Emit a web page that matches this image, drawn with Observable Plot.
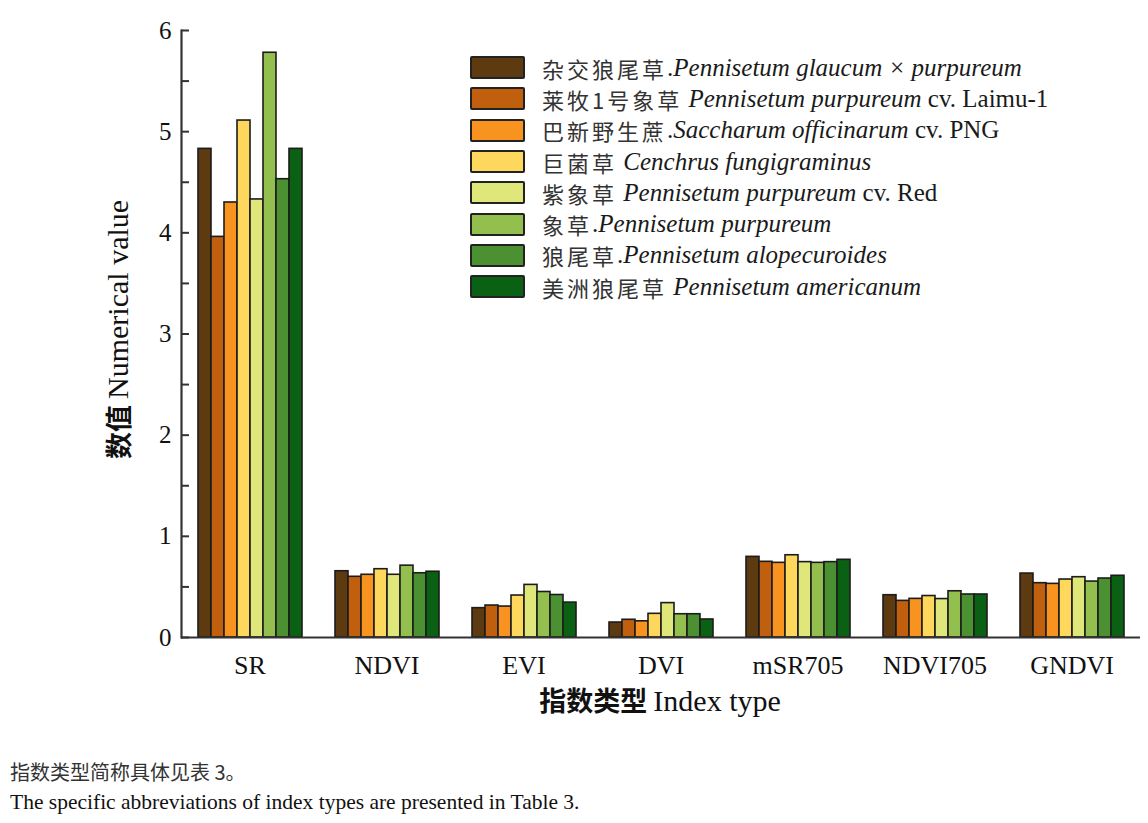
<!DOCTYPE html>
<html>
<head>
<meta charset="utf-8">
<script src="https://cdn.jsdelivr.net/npm/d3@7"></script>
<script src="https://cdn.jsdelivr.net/npm/@observablehq/plot@0.6"></script>
<style>
  body { margin: 0; background: #fff; }
  #wrap { position: relative; width: 1148px; height: 823px; }
  #legend { position: absolute; left: 470px; top: 52px; font-family: "Liberation Serif", "Noto Sans CJK SC", serif; font-size: 25px; color: #1a1a1a; }
  .row { display: flex; align-items: center; height: 31.3px; white-space: nowrap; }
  .row span { white-space: pre; }
  .sw { width: 51px; height: 19px; border: 2px solid #222; border-radius: 2px; margin-right: 17px; box-sizing: content-box; }
  .cn { font-family: "Noto Sans CJK SC", sans-serif; font-size: 22px; letter-spacing: 3px; color: #333; }
  .la { font-style: italic; }
  #caption { position: absolute; left: 10px; top: 756px; color: #111; }
  #cap1 { font-family: "Noto Sans CJK SC", sans-serif; font-size: 20px; height: 31px; line-height: 31px; color: #333; }
  #cap2 { font-family: "Liberation Serif", serif; font-size: 21.5px; height: 31px; line-height: 31px; }
</style>
</head>
<body>
<div id="wrap">
  <div id="chart"></div>
  <div id="legend"></div>
  <div id="caption">
    <div id="cap1">指数类型简称具体见表 3。</div>
    <div id="cap2">The specific abbreviations of index types are presented in Table 3.</div>
  </div>
</div>
<script>
// ---- data ----
const indices = ["SR", "NDVI", "EVI", "DVI", "mSR705", "NDVI705", "GNDVI"];
const speciesCn = ["杂交狼尾草", "莱牧1号象草", "巴新野生蔗", "巨菌草", "紫象草", "象草", "狼尾草", "美洲狼尾草"];
const speciesSep = [".", " ", ".", " ", " ", ".", ".", " "];
const speciesLatin = ["Pennisetum glaucum × purpureum", "Pennisetum purpureum", "Saccharum officinarum", "Cenchrus fungigraminus", "Pennisetum purpureum", "Pennisetum purpureum", "Pennisetum alopecuroides", "Pennisetum americanum"];
const speciesCv = ["", " cv. Laimu-1", " cv. PNG", "", " cv. Red", "", "", ""];
const colors = ["#5e3a10", "#c0600e", "#f7931e", "#fdd85d", "#dfe67a", "#93bf4f", "#4b9132", "#0a6114"];

// values per species, in the order of `indices`
const vHybrid    = [4.83, 0.655, 0.290, 0.148, 0.797, 0.418, 0.632];
const vLaimu     = [3.96, 0.600, 0.316, 0.175, 0.748, 0.362, 0.537];
const vPNG       = [4.30, 0.620, 0.306, 0.160, 0.738, 0.382, 0.530];
const vFungi     = [5.11, 0.675, 0.415, 0.234, 0.813, 0.410, 0.573];
const vRed       = [4.33, 0.620, 0.520, 0.340, 0.745, 0.380, 0.596];
const vPurpureum = [5.78, 0.710, 0.450, 0.230, 0.738, 0.457, 0.553];
const vAlopec    = [4.53, 0.635, 0.420, 0.230, 0.745, 0.425, 0.583];
const vAmerican  = [4.83, 0.650, 0.345, 0.178, 0.768, 0.425, 0.610];
const seriesValues = [vHybrid, vLaimu, vPNG, vFungi, vRed, vPurpureum, vAlopec, vAmerican];

const yTicks = [0, 1, 2, 3, 4, 5, 6];
const yMinorTicks = [0, 0.5, 1, 1.5, 2, 2.5, 3, 3.5, 4, 4.5, 5, 5.5, 6];

const yTitleCn = "数值", yTitleEn = "Numerical value";
const xTitleCn = "指数类型", xTitleEn = "Index type";

// ---- table ----
const rows = [];
speciesCn.forEach((s, i) => indices.forEach((idx, j) => rows.push({species: s, index: idx, value: seriesValues[i][j]})));

const serif = "Liberation Serif, Times New Roman, serif";
const W = 1148, H = 730, mL = 180, mR = 8, mT = 30, mB = 93;

const chart = Plot.plot({
  width: W, height: H,
  marginLeft: mL, marginRight: mR, marginTop: mT, marginBottom: mB,
  style: {fontFamily: serif, color: "#111", background: "transparent"},
  fx: {domain: indices, padding: 0, label: null},
  x: {domain: speciesCn, paddingInner: 0, paddingOuter: 1, axis: null},
  y: {domain: [0, 6]},
  color: {domain: speciesCn, range: colors},
  marks: [
    Plot.barY(rows, {fx: "index", x: "species", y: "value", fill: "species", stroke: "#1c1c1c", strokeWidth: 1.6}),
    Plot.ruleY([0], {stroke: "#333", strokeWidth: 2.2}),
    Plot.frame({anchor: "left", facetAnchor: "left", stroke: "#333", strokeWidth: 2.2}),
    Plot.axisY({ticks: yMinorTicks, tickSize: 8, dx: 8, text: null, label: null, stroke: "#333", strokeWidth: 2}),
    Plot.axisY({ticks: yTicks, tickSize: 0, tickPadding: 10, tickFormat: d3.format("d"), fontSize: 25, label: null}),
    Plot.axisFx({anchor: "bottom", tickSize: 0, tickPadding: 18, fontSize: 26, label: null})
  ]
});
document.getElementById("chart").appendChild(chart);

// axis titles with mixed CJK / Latin text
const svg = d3.select(chart);
const plotBottom = H - mB;
const yt = svg.append("text")
  .attr("transform", `translate(117,${(mT + plotBottom) / 2 - 4}) rotate(-90)`)
  .attr("text-anchor", "middle").attr("dominant-baseline", "central")
  .attr("fill", "#111").attr("font-size", 30);
yt.append("tspan").attr("font-family", "Noto Sans CJK SC").attr("font-weight", 700).attr("font-size", 27).text(yTitleCn + " ");
yt.append("tspan").attr("font-family", serif).text(yTitleEn);

const xt = svg.append("text")
  .attr("x", (mL + W - mR) / 2).attr("y", 711)
  .attr("text-anchor", "middle").attr("fill", "#111").attr("font-size", 30);
xt.append("tspan").attr("font-family", "Noto Sans CJK SC").attr("font-weight", 700).attr("font-size", 27).text(xTitleCn + " ");
xt.append("tspan").attr("font-family", serif).text(xTitleEn);

// legend
const legend = d3.select("#legend");
speciesCn.forEach((s, i) => {
  const r = legend.append("div").attr("class", "row");
  r.append("div").attr("class", "sw").style("background", colors[i]);
  r.append("span").attr("class", "cn").text(s);
  r.append("span").text(speciesSep[i]);
  r.append("span").attr("class", "la").text(speciesLatin[i]);
  if (speciesCv[i]) r.append("span").text(speciesCv[i]);
});
</script>
</body>
</html>
